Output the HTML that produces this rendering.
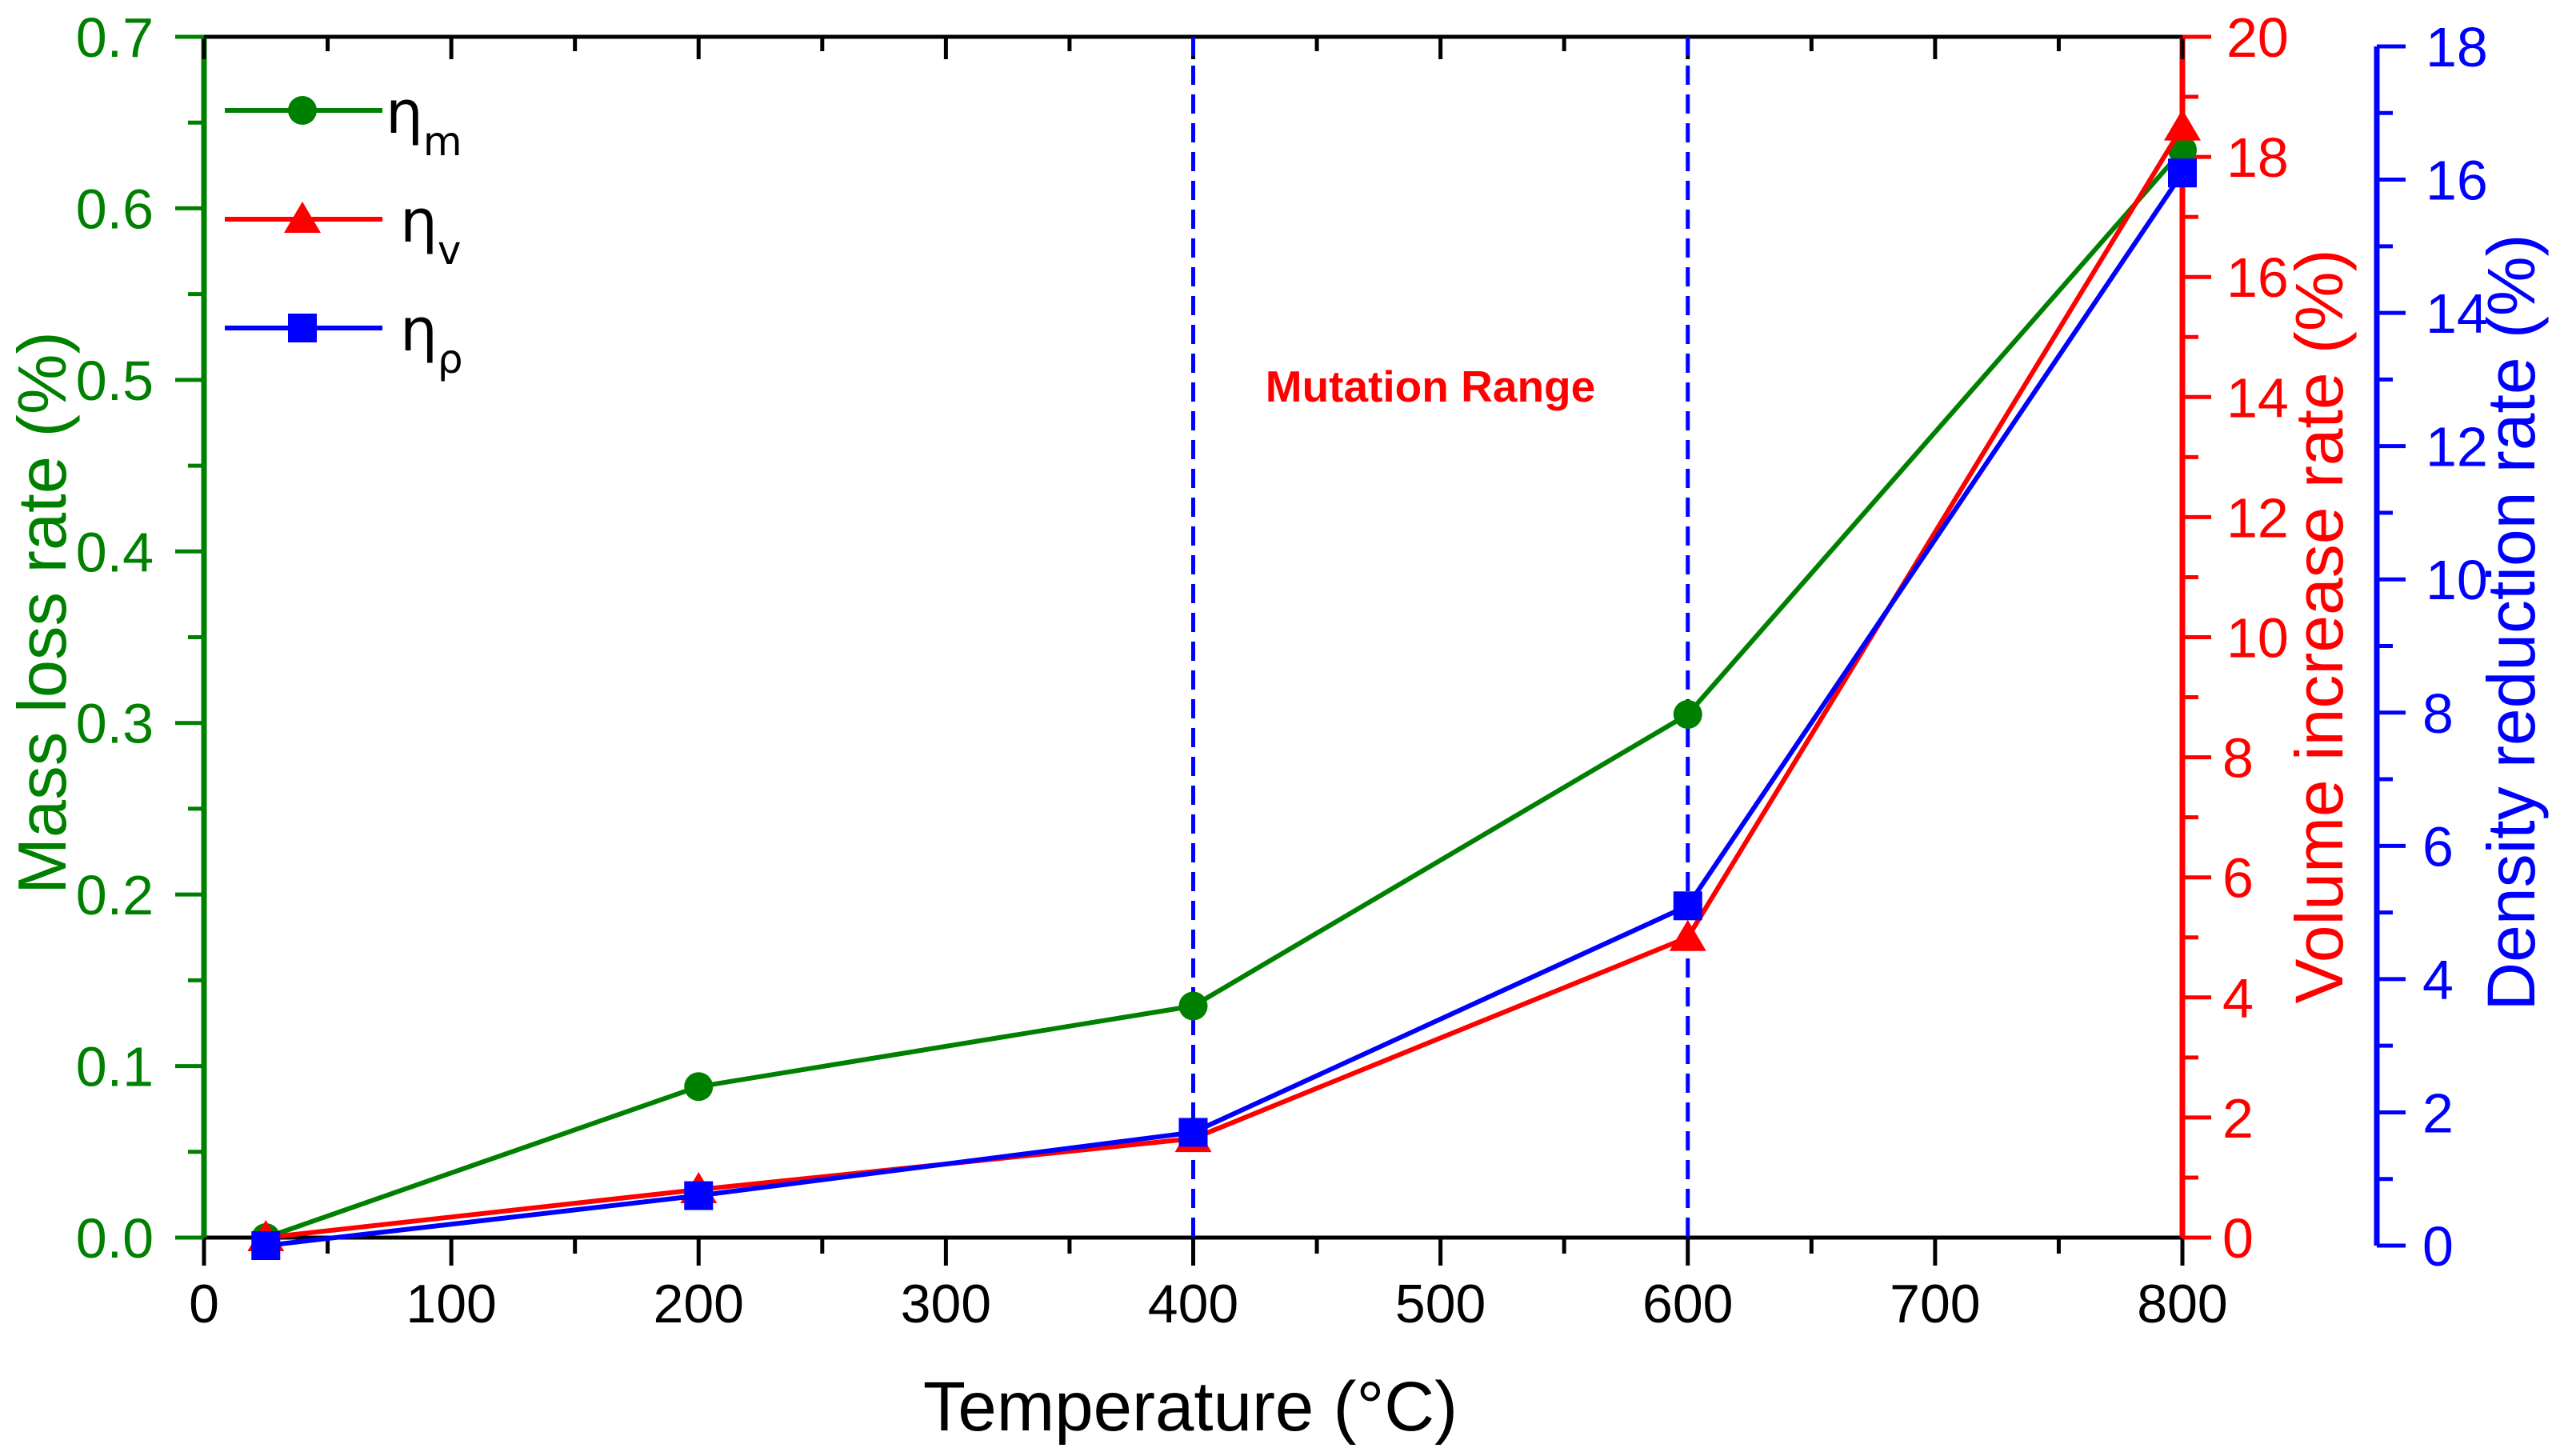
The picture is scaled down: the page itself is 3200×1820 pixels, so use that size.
<!DOCTYPE html>
<html><head><meta charset="utf-8"><style>
html,body{margin:0;padding:0;background:#fff;}
svg{display:block;font-family:"Liberation Sans",Arial,sans-serif;}
</style></head><body>
<svg id="chart" width="3200" height="1820" viewBox="0 0 3200 1820" xmlns="http://www.w3.org/2000/svg">
<g id="axes"></g>
<g id="marks"></g>
<text x="1788" y="502" font-size="55" font-weight="bold" fill="#ff0000" text-anchor="middle">Mutation Range</text>
<text x="1488" y="1788" font-size="87" text-anchor="middle" fill="#000">Temperature (°C)</text>
<text transform="translate(82,766) rotate(-90)" font-size="85" text-anchor="middle" fill="#008000">Mass loss rate (%)</text>
<text transform="translate(2928,783) rotate(-90)" font-size="84" text-anchor="middle" fill="#ff0000">Volume increase rate (%)</text>
<text transform="translate(3168,778) rotate(-90)" font-size="84" text-anchor="middle" fill="#0000ff">Density reduction rate (%)</text>
<g id="legend"></g>
</svg>
<script>
const temps = [25, 200, 400, 600, 800];
const massLoss = [0.0, 0.088, 0.135, 0.305, 0.634];
const volumeIncrease = [0.0, 0.8, 1.65, 5.0, 18.5];
const densityReduction = [0.0, 0.75, 1.7, 5.1, 16.1];
const xTicks = [0, 100, 200, 300, 400, 500, 600, 700, 800];
const leftTicks = [0.0, 0.1, 0.2, 0.3, 0.4, 0.5, 0.6, 0.7];
const redTicks = [0, 2, 4, 6, 8, 10, 12, 14, 16, 18, 20];
const blueTicks = [0, 2, 4, 6, 8, 10, 12, 14, 16, 18];
const dashedAt = [400, 600];

const NS = "http://www.w3.org/2000/svg";
const X0 = 255, X1 = 2728, YB = 1547, YT = 46, BYB = 1557, BYT = 58, BX = 2971;
const sx = v => X0 + (v / 800) * (X1 - X0);
const syL = v => YB - (v / 0.7) * (YB - YT);
const syR = v => YB - (v / 20) * (YB - YT);
const syB = v => BYB - (v / 18) * (BYB - BYT);
function mk(tag, attrs, parent, text) {
  const e = document.createElementNS(NS, tag);
  for (const k in attrs) e.setAttribute(k, attrs[k]);
  if (text !== undefined) e.textContent = text;
  parent.appendChild(e);
  return e;
}
const axes = document.getElementById('axes');
const marks = document.getElementById('marks');
const legend = document.getElementById('legend');

let e;
e = mk('line', {x1: X0, y1: YT, x2: X1, y2: YT, stroke: '#000', 'stroke-width': 5}, axes);


e = mk('line', {x1: X0, y1: YB, x2: X1, y2: YB, stroke: '#000', 'stroke-width': 5}, axes);


e = mk('line', {x1: X0, y1: YT, x2: X0, y2: YB, stroke: '#008000', 'stroke-width': 7}, axes);


e = mk('line', {x1: X1, y1: YT, x2: X1, y2: YB, stroke: '#ff0000', 'stroke-width': 7}, axes);


e = mk('line', {x1: BX, y1: BYT, x2: BX, y2: BYB, stroke: '#0000ff', 'stroke-width': 7}, axes);



xTicks.forEach((t, i) => {
  const x = sx(t);
  e = mk('line', {x1: x, y1: YB, x2: x, y2: YB + 35, stroke: '#000', 'stroke-width': 5}, axes);
  
  
  e = mk('line', {x1: x, y1: YT, x2: x, y2: YT + 28, stroke: '#000', 'stroke-width': 5}, axes);
  
  
  e = mk('text', {x: x, y: 1653, 'font-size': 68, 'text-anchor': 'middle', fill: '#000'}, axes, String(t));
  
  
  if (i < xTicks.length - 1) {
    const xm = sx(t + 50);
    e = mk('line', {x1: xm, y1: YB, x2: xm, y2: YB + 20, stroke: '#000', 'stroke-width': 5}, axes);
    
    
    e = mk('line', {x1: xm, y1: YT, x2: xm, y2: YT + 18, stroke: '#000', 'stroke-width': 5}, axes);
    
    
  }
});
leftTicks.forEach((t, i) => {
  const y = syL(t);
  e = mk('line', {x1: X0 - 36, y1: y, x2: X0, y2: y, stroke: '#008000', 'stroke-width': 5}, axes);
  
  
  e = mk('text', {x: 192, y: y + 25, 'font-size': 70, 'text-anchor': 'end', fill: '#008000'}, axes, t.toFixed(1));
  
  
  if (i < leftTicks.length - 1) {
    const ym = syL(t + 0.05);
    e = mk('line', {x1: X0 - 20, y1: ym, x2: X0, y2: ym, stroke: '#008000', 'stroke-width': 5}, axes);
    
    
  }
});
redTicks.forEach((t, i) => {
  const y = syR(t);
  e = mk('line', {x1: X1, y1: y, x2: X1 + 36, y2: y, stroke: '#ff0000', 'stroke-width': 5}, axes);
  
  
  e = mk('text', {x: t >= 10 ? 2783 : 2778, y: y + 25, 'font-size': 70, 'text-anchor': 'start', fill: '#ff0000'}, axes, String(t));
  
  
  if (i < redTicks.length - 1) {
    const ym = syR(t + 1);
    e = mk('line', {x1: X1, y1: ym, x2: X1 + 20, y2: ym, stroke: '#ff0000', 'stroke-width': 5}, axes);
    
    
  }
});
blueTicks.forEach((t, i) => {
  const y = syB(t);
  e = mk('line', {x1: BX, y1: y, x2: BX + 36, y2: y, stroke: '#0000ff', 'stroke-width': 5}, axes);
  
  
  e = mk('text', {x: t >= 10 ? 3032 : 3028, y: y + 25, 'font-size': 70, 'text-anchor': 'start', fill: '#0000ff'}, axes, String(t));
  
  
  if (i < blueTicks.length - 1) {
    const ym = syB(t + 1);
    e = mk('line', {x1: BX, y1: ym, x2: BX + 20, y2: ym, stroke: '#0000ff', 'stroke-width': 5}, axes);
    
    
  }
});
dashedAt.forEach(t => {
  e = mk('line', {x1: sx(t), y1: YT, x2: sx(t), y2: YB, stroke: '#0000ff', 'stroke-width': 5, 'stroke-dasharray': '24 12'}, marks);
  
  
});

function marker(type, x, y, color, parent) {
  let m;
  if (type === 'circle') m = mk('circle', {cx: x, cy: y, r: 18, fill: color}, parent);
  else if (type === 'tri') m = mk('polygon', {points: `${x},${y - 22} ${x + 23},${y + 17} ${x - 23},${y + 17}`, fill: color}, parent);
  else m = mk('rect', {x: x - 18, y: y - 18, width: 36, height: 36, fill: color}, parent);
  return m;
}
function series(vals, sy, color, type, name) {
  const pts = temps.map((t, i) => `${sx(t)},${sy(vals[i])}`).join(' ');
  e = mk('polyline', {points: pts, fill: 'none', stroke: color, 'stroke-width': 6, 'stroke-linejoin': 'round'}, marks);
  
  
  temps.forEach((t, i) => {
    const m = marker(type, sx(t), sy(vals[i]), color, marks);
    
    
  });
}
series(massLoss, syL, '#008000', 'circle', 'mass-loss');
series(volumeIncrease, syR, '#ff0000', 'tri', 'volume-increase');
series(densityReduction, syB, '#0000ff', 'rect', 'density-reduction');

const leg = [['#008000', 'circle', 'm', 138, 482], ['#ff0000', 'tri', 'v', 274, 500], ['#0000ff', 'rect', 'ρ', 410, 500]];
leg.forEach(([c, type, sub, y, tx]) => {
  e = mk('line', {x1: 281, y1: y, x2: 478, y2: y, stroke: c, 'stroke-width': 6}, legend);
  
  
  e = marker(type, 378, y, c, legend);
  
  
  const t = mk('text', {x: tx, y: y + 28, 'font-size': 74, fill: '#000', 'font-family': '"DejaVu Sans","Liberation Sans",sans-serif'}, legend);
  
  
  mk('tspan', {}, t, 'η');
  mk('tspan', {dy: 28, 'font-size': 50}, t, sub);
});
</script>
</body></html>
